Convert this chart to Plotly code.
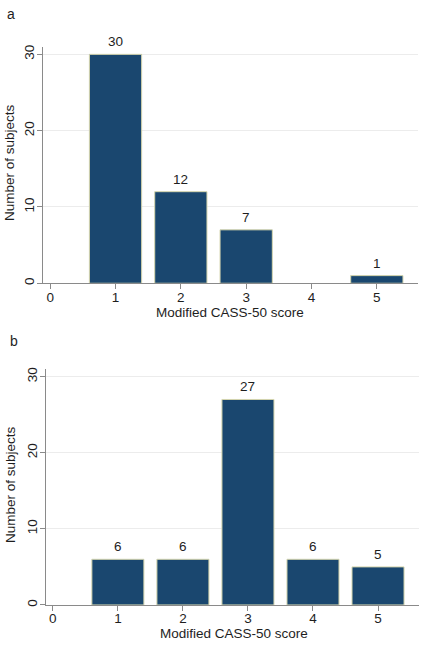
import plotly.graph_objects as go

scores = [1, 2, 3, 4, 5]
counts_a = [30, 12, 7, 0, 1]
counts_b = [6, 6, 27, 6, 5]
x_ticks = [0, 1, 2, 3, 4, 5]
y_ticks = [0, 10, 20, 30]
panel_labels = ["a", "b"]
x_title = "Modified CASS-50 score"
y_title = "Number of subjects"

W, H = 426, 649
BAR = "#1a476f"
EDGE = "#d6d6ae"
AXC = "#8a8a8a"
GRID = "#ececec"
FONT = "Liberation Sans, Arial, Helvetica, sans-serif"
TXT = "#1e1e1e"
FS = 13.5

fig = go.Figure()
for i, counts in enumerate([counts_a, counts_b]):
    fig.add_trace(go.Bar(
        x=scores, y=counts, width=0.8,
        marker=dict(color=BAR, line=dict(color=EDGE, width=[1 if c > 0 else 0 for c in counts])),
        xaxis="x" if i == 0 else "x2", yaxis="y" if i == 0 else "y2",
        showlegend=False, hoverinfo="skip",
    ))

annotations = []
for i, counts in enumerate([counts_a, counts_b]):
    xr = "x" if i == 0 else "x2"
    yr = "y" if i == 0 else "y2"
    for s, c in zip(scores, counts):
        if c > 0:
            annotations.append(dict(x=s, y=c, xref=xr, yref=yr, text=str(c),
                                    showarrow=False, yanchor="bottom", yshift=3,
                                    font=dict(size=FS, color=TXT, family=FONT)))

def paper_text(x, y, text, angle=0, xanchor="center", size=FS):
    return dict(x=x / W, y=1 - y / H, xref="paper", yref="paper", text=text,
                showarrow=False, xanchor=xanchor, yanchor="middle", textangle=angle,
                font=dict(size=size, color=TXT, family=FONT))

annotations.append(paper_text(5, 12, panel_labels[0], xanchor="left", size=14))
annotations.append(paper_text(8, 341, panel_labels[1], xanchor="left", size=14))
annotations.append(paper_text(230, 312, x_title))
annotations.append(paper_text(234, 635, x_title))
annotations.append(paper_text(9, 162, y_title, angle=-90))
annotations.append(paper_text(10, 486, y_title, angle=-90))

def xaxis(domain, anchor):
    return dict(domain=domain, anchor=anchor, range=[-0.11, 5.63], tickvals=x_ticks,
                showline=True, linecolor=AXC, linewidth=1.3, ticks="outside", ticklen=5,
                tickcolor=AXC, showgrid=False, zeroline=False, ticklabelstandoff=-4,
                tickfont=dict(size=FS, color=TXT, family=FONT))

def yaxis(domain, anchor):
    return dict(domain=domain, anchor=anchor, range=[0, 31], tickvals=y_ticks, tickangle=-90,
                showline=True, linecolor=AXC, linewidth=1.3, ticks="outside", ticklen=5,
                tickcolor=AXC, showgrid=True, gridcolor=GRID, gridwidth=1, zeroline=False,
                ticklabelstandoff=-3,
                tickfont=dict(size=FS, color=TXT, family=FONT))

fig.update_layout(
    width=W, height=H, margin=dict(l=0, r=0, t=0, b=0),
    paper_bgcolor="white", plot_bgcolor="white",
    xaxis=xaxis([43 / W, 418 / W], "y"),
    yaxis=yaxis([1 - 283 / H, 1 - 45 / H], "x"),
    xaxis2=xaxis([45.7 / W, 419 / W], "y2"),
    yaxis2=yaxis([1 - 606.7 / H, 1 - 369.3 / H], "x2"),
    annotations=annotations,
    bargap=0.2,
)
fig.write_html("out.html")
